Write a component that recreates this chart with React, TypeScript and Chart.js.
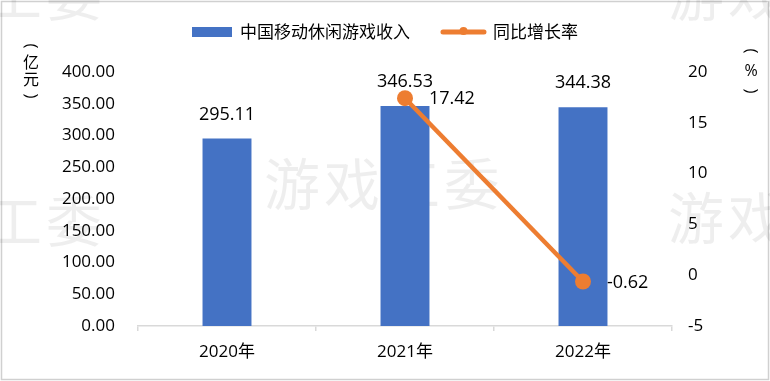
import { useEffect, useRef } from "react";
import { Chart, registerables } from "chart.js";

Chart.register(...registerables);

const categories = ["2020年", "2021年", "2022年"];
const revenue = [295.11, 346.53, 344.38];
const growth: (number | null)[] = [null, 17.42, -0.62];
const revenueLabel = "中国移动休闲游戏收入";
const growthLabel = "同比增长率";
const leftTitle = ["(", "亿", "元", ")"];
const rightTitle = ["(", "%", ")"];
const watermark = "游戏工委";

const BLUE = "#4472C4";
const ORANGE = "#ED7D31";
const FONT = "'Open Sans', 'Noto Sans CJK SC', sans-serif";
const CJK = "'Noto Sans CJK SC', sans-serif";

function drawVertical(ctx: any, chars: string[], x: number, ys: number[]) {
  chars.forEach((c, i) => {
    const y = ys[i];
    if (c === "(" || c === ")") {
      ctx.save();
      ctx.translate(x, y);
      ctx.rotate(Math.PI / 2);
      ctx.font = `17px ${FONT}`;
      ctx.fillText(c, 0, 0);
      ctx.restore();
    } else {
      ctx.fillText(c, x, y);
    }
  });
}

const decor = {
  id: "decor",
  beforeDraw(chart: any) {
    const ctx = chart.ctx;
    ctx.save();
    ctx.fillStyle = "#ffffff";
    ctx.fillRect(0, 0, chart.width, chart.height);
    ctx.strokeStyle = "#d0d0d0";
    ctx.lineWidth = 1.5;
    ctx.strokeRect(1.5, 1.5, chart.width - 3, chart.height - 3);
    ctx.restore();
  },
  beforeDatasetsDraw(chart: any) {
    const ctx = chart.ctx;
    ctx.save();
    ctx.fillStyle = "rgba(0,0,0,0.065)";
    ctx.font = `56px ${CJK}`;
    ctx.textAlign = "center";
    ctx.textBaseline = "middle";
    const chars = Array.from(watermark);
    const put = (cx0: number, cy: number) => {
      chars.forEach((c, i) => ctx.fillText(c, cx0 + i * 60, cy));
    };
    put(292, 184);
    put(-106, 221);
    put(696, 218);
    put(-106, -5);
    put(696, -5);
    ctx.restore();
  },
  afterDatasetsDraw(chart: any) {
    const ctx = chart.ctx;
    ctx.save();
    ctx.fillStyle = "#000";
    ctx.font = `18px ${FONT}`;
    ctx.textBaseline = "middle";
    const barMeta = chart.getDatasetMeta(0);
    ctx.textAlign = "center";
    barMeta.data.forEach((el: any, i: number) => {
      ctx.fillText(revenue[i].toFixed(2), el.x, el.y - 24);
    });
    const lineMeta = chart.getDatasetMeta(1);
    ctx.textAlign = "left";
    lineMeta.data.forEach((el: any, i: number) => {
      const v = growth[i];
      if (v === null || v === undefined) return;
      ctx.fillText(v.toFixed(2), el.x + 24, el.y + 1);
    });
    ctx.restore();
  },
  afterDraw(chart: any) {
    const ctx = chart.ctx;
    ctx.save();
    ctx.fillStyle = "#000";
    ctx.textBaseline = "middle";
    // legend
    ctx.font = `17px ${CJK}`;
    const w1 = ctx.measureText(revenueLabel).width;
    const w2 = ctx.measureText(growthLabel).width;
    const total = 40 + 8 + w1 + 31 + 45 + 7 + w2;
    let x = chart.width / 2 - total / 2;
    const ly = 32;
    ctx.fillStyle = BLUE;
    ctx.fillRect(x, ly - 5, 40, 10);
    x += 48;
    ctx.fillStyle = "#000";
    ctx.textAlign = "left";
    ctx.fillText(revenueLabel, x, ly);
    x += w1 + 31;
    ctx.strokeStyle = ORANGE;
    ctx.lineWidth = 5;
    ctx.lineCap = "round";
    ctx.beginPath();
    ctx.moveTo(x + 2, ly);
    ctx.lineTo(x + 43, ly);
    ctx.stroke();
    ctx.fillStyle = ORANGE;
    ctx.beginPath();
    ctx.arc(x + 22.5, ly - 1, 4, 0, Math.PI * 2);
    ctx.fill();
    x += 52;
    ctx.fillStyle = "#000";
    ctx.fillText(growthLabel, x, ly);
    // axis titles
    ctx.textAlign = "center";
    ctx.font = `16px ${CJK}`;
    drawVertical(ctx, leftTitle, 31, [46, 62, 79, 96]);
    ctx.font = `16px ${FONT}`;
    drawVertical(ctx, rightTitle, 751, [51, 71, 91]);
    ctx.restore();
  },
};

export default function App() {
  const ref = useRef<HTMLCanvasElement>(null);
  useEffect(() => {
    document.body.style.margin = "0";
    const canvas = ref.current!;
    const chart = new Chart(canvas, {
      type: "bar",
      data: {
        labels: categories,
        datasets: [
          {
            type: "bar",
            label: revenueLabel,
            data: revenue,
            backgroundColor: BLUE,
            yAxisID: "y",
            barPercentage: 0.55,
            categoryPercentage: 0.5,
            order: 1,
          },
          {
            type: "line",
            label: growthLabel,
            data: growth,
            borderColor: ORANGE,
            backgroundColor: ORANGE,
            borderWidth: 4.5,
            pointRadius: 8,
            pointBackgroundColor: ORANGE,
            pointBorderWidth: 0,
            yAxisID: "y1",
            order: 0,
          } as any,
        ],
      },
      options: {
        responsive: false,
        animation: false,
        devicePixelRatio: 1,
        layout: { padding: { top: 72, left: 0, right: 0, bottom: 0 } },
        plugins: {
          legend: { display: false },
          tooltip: { enabled: false },
        },
        scales: {
          x: {
            offset: true,
            grid: {
              display: true,
              offset: true,
              drawOnChartArea: false,
              drawTicks: true,
              tickLength: 5,
              color: "#d9d9d9",
              lineWidth: 1.5,
            },
            border: { display: true, color: "#d9d9d9", width: 1.5 },
            ticks: {
              color: "#000",
              font: { family: FONT, size: 17 },
              padding: 11,
              maxRotation: 0,
            },
            afterFit(scale: any) {
              scale.height = 55;
            },
          },
          y: {
            position: "left",
            min: 0,
            max: 400,
            grid: { display: false, drawTicks: false },
            border: { display: false },
            ticks: {
              stepSize: 50,
              color: "#000",
              font: { family: FONT, size: 17 },
              padding: 23,
              callback: (v: any) => Number(v).toFixed(2),
            },
            afterFit(scale: any) {
              scale.width = 138;
            },
          },
          y1: {
            position: "right",
            min: -5,
            max: 20,
            grid: { display: false, drawTicks: false },
            border: { display: false },
            ticks: {
              stepSize: 5,
              color: "#000",
              font: { family: FONT, size: 17 },
              padding: 16,
            },
            afterFit(scale: any) {
              scale.width = 98;
            },
          },
        },
      },
      plugins: [decor],
    });
    return () => chart.destroy();
  }, []);
  return (
    <canvas
      ref={ref}
      width={770}
      height={381}
      style={{ display: "block", width: 770, height: 381 }}
    />
  );
}
